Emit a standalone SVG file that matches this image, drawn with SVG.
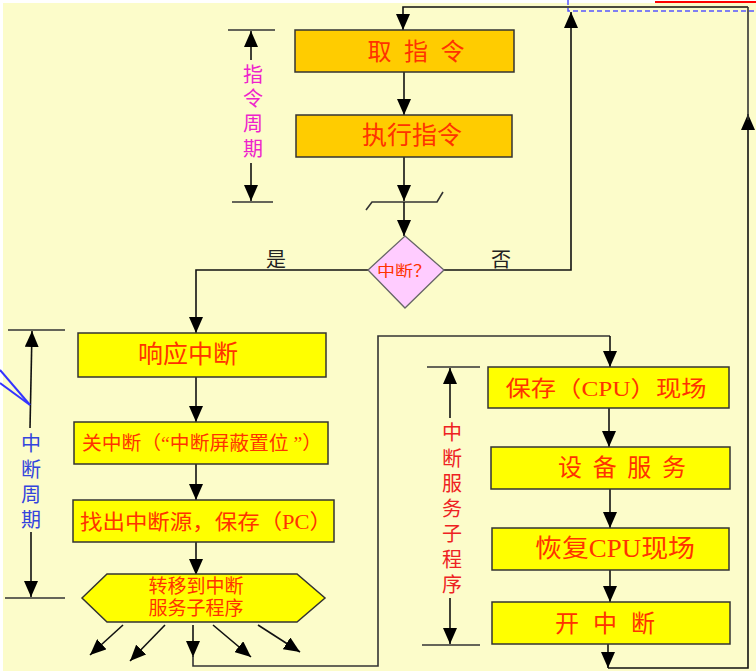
<svg xmlns="http://www.w3.org/2000/svg" width="756" height="671" viewBox="0 0 756 671">
<defs>
<marker id="ah" markerWidth="16" markerHeight="14" refX="16" refY="7" orient="auto" markerUnits="userSpaceOnUse">
<path d="M0,0 L16,7 L0,14 Z" fill="#000"/>
</marker>
<style>
.bg{fill:#FCFCCA}
.ln{fill:none;stroke:#333;stroke-width:1.6}
.ar{fill:none;stroke:#111;stroke-width:1.6;marker-end:url(#ah)}
.obox{fill:#FFCC00;stroke:#333;stroke-width:1.5}
.ybox{fill:#FFFF00;stroke:#333;stroke-width:1.5}
.t{font-family:"Liberation Serif","Noto Sans CJK SC",serif;fill:#FF3300;text-anchor:middle}
.lbl{font-family:"Liberation Serif","Noto Sans CJK SC",serif;fill:#222;text-anchor:middle;font-size:20px}
.vt{font-family:"Liberation Serif","Noto Sans CJK SC",serif;text-anchor:middle;font-size:20px}
</style>
</defs>
<rect x="0" y="0" width="756" height="671" fill="#FFFFFF"/>
<rect class="bg" x="3" y="3" width="753" height="668"/>
<line x1="655" y1="2" x2="756" y2="2" stroke="#FF0000" stroke-width="2"/>
<polyline points="568,0 568,11 756,11" fill="none" stroke="#5555FF" stroke-width="1.5" stroke-dasharray="5,3"/>

<g id="connectors">
<polyline class="ar" points="748,7 403,7 403,30"/>
<line class="ar" x1="404" y1="72" x2="404" y2="115"/>
<line class="ar" x1="404" y1="157" x2="404" y2="201"/>
<polyline class="ln" points="366,210 372,202 437,202 443,192"/>
<line class="ar" x1="404" y1="202" x2="404" y2="236"/>
<polyline class="ar" points="444,270 571,270 571,12"/>
<polyline class="ar" points="368,270 196,270 196,333"/>
<line class="ar" x1="196" y1="377" x2="196" y2="422"/>
<line class="ar" x1="196" y1="464" x2="196" y2="500"/>
<line class="ar" x1="196" y1="542" x2="196" y2="575"/>
<line class="ar" x1="123" y1="625" x2="90" y2="655"/>
<line class="ar" x1="165" y1="625" x2="130" y2="661"/>
<line class="ar" x1="193" y1="625" x2="193" y2="657"/>
<polyline class="ln" points="193,655 193,666 378,666 378,336 610,336"/>
<line class="ar" x1="610" y1="336" x2="610" y2="367"/>
<line class="ar" x1="213" y1="625" x2="251" y2="657"/>
<line class="ar" x1="258" y1="625" x2="300" y2="652"/>
<line class="ar" x1="609" y1="408" x2="609" y2="447"/>
<line class="ar" x1="610" y1="489" x2="610" y2="528"/>
<line class="ar" x1="610" y1="570" x2="610" y2="602"/>
<line class="ar" x1="608" y1="644" x2="608" y2="668"/>
<polyline class="ar" points="608,668 748,668 748,114"/>
<line class="ln" x1="748" y1="120" x2="748" y2="7"/>
</g>

<g id="instr-cycle">
<line class="ln" x1="228" y1="30" x2="275" y2="30"/>
<line class="ln" x1="232" y1="202" x2="273" y2="202"/>
<line class="ar" x1="251" y1="60" x2="251" y2="31"/>
<line class="ar" x1="251" y1="163" x2="251" y2="201"/>
<text class="vt" fill="#EE22CC" x="253" y="82">指</text>
<text class="vt" fill="#EE22CC" x="253" y="106">令</text>
<text class="vt" fill="#EE22CC" x="253" y="131">周</text>
<text class="vt" fill="#EE22CC" x="253" y="156">期</text>
</g>

<g id="int-cycle">
<line class="ln" x1="8" y1="330" x2="65" y2="330"/>
<line class="ln" x1="5" y1="598" x2="65" y2="598"/>
<line class="ar" x1="30" y1="428" x2="32" y2="331"/>
<line class="ar" x1="31" y1="532" x2="31" y2="597"/>
<line x1="0" y1="370" x2="30" y2="405" stroke="#3333FF" stroke-width="2"/>
<line x1="0" y1="383" x2="30" y2="405" stroke="#3333FF" stroke-width="2"/>
<text class="vt" fill="#3344DD" x="31" y="451">中</text>
<text class="vt" fill="#3344DD" x="31" y="477">断</text>
<text class="vt" fill="#3344DD" x="31" y="502">周</text>
<text class="vt" fill="#3344DD" x="31" y="527">期</text>
</g>

<g id="isr-cycle">
<line class="ln" x1="427" y1="367" x2="480" y2="367"/>
<line class="ln" x1="422" y1="645" x2="480" y2="645"/>
<line class="ar" x1="450" y1="418" x2="450" y2="368"/>
<line class="ar" x1="450" y1="598" x2="450" y2="644"/>
<text class="vt" fill="#EE2222" x="452" y="440">中</text>
<text class="vt" fill="#EE2222" x="452" y="466">断</text>
<text class="vt" fill="#EE2222" x="452" y="491">服</text>
<text class="vt" fill="#EE2222" x="452" y="516">务</text>
<text class="vt" fill="#EE2222" x="452" y="541">子</text>
<text class="vt" fill="#EE2222" x="452" y="567">程</text>
<text class="vt" fill="#EE2222" x="452" y="592">序</text>
</g>

<g id="fetch">
<rect class="obox" x="295" y="30" width="219" height="42"/>
<text class="t" x="416" y="60" font-size="24" textLength="97" lengthAdjust="spacing">取 指 令</text>
</g>
<g id="exec">
<rect class="obox" x="296" y="115" width="216" height="42"/>
<text class="t" x="412" y="144" font-size="25">执行指令</text>
</g>
<g id="decision">
<polygon points="405,236 444,270 405,308 368,270" fill="#FFCCFF" stroke="#666" stroke-width="1.3"/>
<text class="t" x="404" y="276" font-size="15" fill="#EE1155" textLength="54" lengthAdjust="spacingAndGlyphs">中断？</text>
</g>
<text class="lbl" x="276" y="267">是</text>
<text class="lbl" x="501" y="267">否</text>

<g id="respond">
<rect class="ybox" x="78" y="333" width="248" height="44"/>
<text class="t" x="188" y="363" font-size="25">响应中断</text>
</g>
<g id="disable">
<rect class="ybox" x="74" y="422" width="254" height="42"/>
<text class="t" x="202" y="450" font-size="19" textLength="240" lengthAdjust="spacingAndGlyphs">关中断（“中断屏蔽置位 ”）</text>
</g>
<g id="find">
<rect class="ybox" x="73" y="500" width="261" height="42"/>
<text class="t" x="206" y="529" font-size="21" textLength="252" lengthAdjust="spacingAndGlyphs">找出中断源，保存（PC）</text>
</g>
<g id="transfer">
<polygon class="ybox" points="82,598 107,574 297,574 325,598 297,622 107,622"/>
<text class="t" x="196" y="593" font-size="19">转移到中断</text>
<text class="t" x="196" y="615" font-size="19">服务子程序</text>
</g>

<g id="save">
<rect class="ybox" x="488" y="367" width="241" height="41"/>
<text class="t" x="606" y="396" font-size="22" textLength="201" lengthAdjust="spacingAndGlyphs">保存（CPU）现场</text>
</g>
<g id="service">
<rect class="ybox" x="491" y="447" width="239" height="42"/>
<text class="t" x="622" y="476" font-size="24" textLength="128" lengthAdjust="spacing">设 备 服 务</text>
</g>
<g id="restore">
<rect class="ybox" x="492" y="528" width="237" height="42"/>
<text class="t" x="615" y="557" font-size="25" textLength="160" lengthAdjust="spacingAndGlyphs">恢复CPU现场</text>
</g>
<g id="enable">
<rect class="ybox" x="492" y="602" width="238" height="42"/>
<text class="t" x="605" y="632" font-size="24" textLength="100" lengthAdjust="spacing">开  中  断</text>
</g>
</svg>
